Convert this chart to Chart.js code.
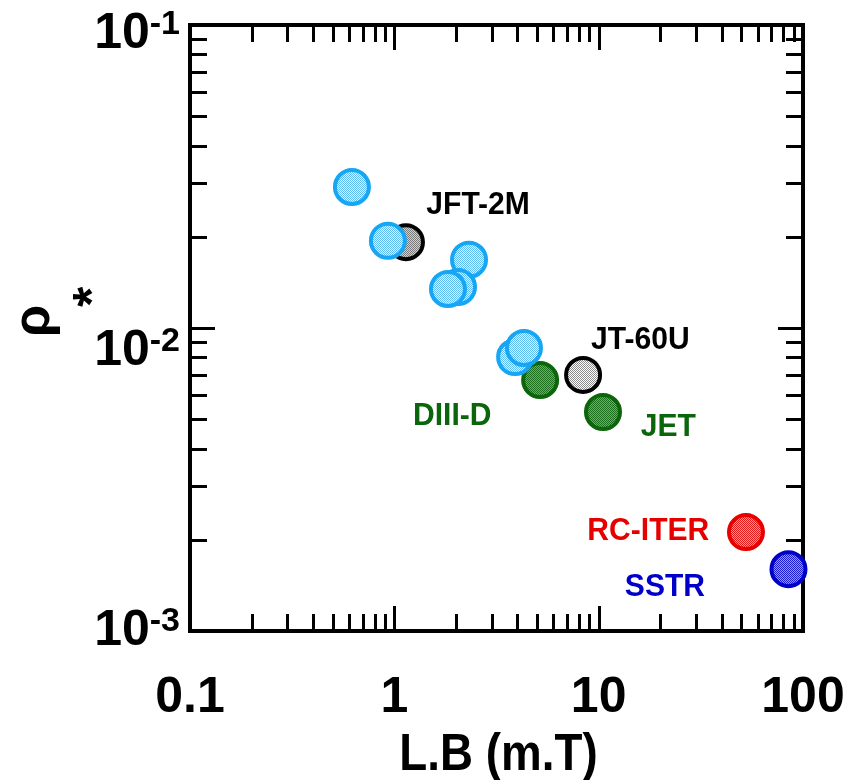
<!DOCTYPE html>
<html>
<head>
<meta charset="utf-8">
<script src="https://cdn.jsdelivr.net/npm/chart.js@4.4.1/dist/chart.umd.min.js"></script>
<style>
  html, body { margin: 0; padding: 0; background: #fff; }
  #wrap { width: 863px; height: 780px; }
</style>
</head>
<body>
<div id="wrap"><canvas id="rhoChart" width="863" height="780"></canvas></div>
<script>
// normalised gyroradius rho* against L.B for each device
const otherLB  = [0.62, 0.93, 2.32, 2.05, 1.83, 3.90, 4.31];
const otherRho = [0.0292, 0.0194, 0.0168, 0.01365, 0.01345, 0.00802, 0.00859];

const machines   = ['JFT-2M', 'JT-60U', 'DIII-D', 'JET', 'RC-ITER', 'SSTR'];
const machineLB  = [1.14, 8.39, 5.17, 10.5, 52.6, 84.9];
const machineRho = [0.0192, 0.0070, 0.00673, 0.00528, 0.00212, 0.00160];

// where the device names are written, in axis units
const nameLB  = [2.57, 16.0, 1.92, 21.9, 17.5, 21.1];
const nameRho = [0.0259, 0.00927, 0.0052, 0.00479, 0.00217, 0.00142];

const xTickValues = [0.1, 1, 10, 100];
const xTickLabels = ['0.1', '1', '10', '100'];
const yTickValues = [0.1, 0.01, 0.001];
const yTickExps   = ['-1', '-2', '-3'];

const FONT = "'Liberation Sans', Arial, Helvetica, sans-serif";

// halftone-like fill: checkerboard of two shades
function stipple(dot, paper) {
  const c = document.createElement('canvas');
  c.width = 2; c.height = 2;
  const g = c.getContext('2d');
  g.fillStyle = paper; g.fillRect(0, 0, 2, 2);
  g.fillStyle = dot; g.fillRect(0, 0, 1, 1); g.fillRect(1, 1, 1, 1);
  return g.createPattern(c, 'repeat');
}

const machineStyle = {
  'JFT-2M':  { border: '#000000', fill: stipple('#7a7a7a', '#d0d0d0'), text: '#000000' },
  'JT-60U':  { border: '#000000', fill: stipple('#8c8c8c', '#ffffff'), text: '#000000' },
  'DIII-D':  { border: '#0b650b', fill: stipple('#1c6f1c', '#6faa6f'), text: '#0b650b' },
  'JET':     { border: '#0b650b', fill: stipple('#1c6f1c', '#6faa6f'), text: '#0b650b' },
  'RC-ITER': { border: '#e60000', fill: stipple('#e41a1a', '#f79a9a'), text: '#e60000' },
  'SSTR':    { border: '#0000c8', fill: stipple('#1c1cd4', '#9a9af2'), text: '#0000c8' }
};

const datasets = [{
  label: 'others',
  data: otherLB.map((v, i) => ({ x: v, y: otherRho[i] })),
  borderColor: '#16a6f4',
  backgroundColor: stipple('#5cbcf2', '#eaf6fd'),
  pointRadius: 17,
  pointBorderWidth: 4,
  clip: false
}];
machines.forEach((m, i) => {
  datasets.push({
    label: m,
    data: [{ x: machineLB[i], y: machineRho[i] }],
    borderColor: machineStyle[m].border,
    backgroundColor: machineStyle[m].fill,
    pointRadius: 17,
    pointBorderWidth: 4,
    clip: false
  });
});

function logTicks(lo, hi) {
  const out = [];
  for (let e = Math.floor(Math.log10(lo)); e <= Math.ceil(Math.log10(hi)); e++) {
    for (let k = 1; k <= 9; k++) {
      const v = k * Math.pow(10, e);
      if (v >= lo * 0.9999 && v <= hi * 1.0001) out.push({ v, major: k === 1 });
    }
  }
  return out;
}

// text squeezed sideways a little, like the narrow bold face of the plot
function narrowText(ctx, str, x, y, sx) {
  ctx.save();
  ctx.translate(x, y);
  ctx.scale(sx, 1);
  ctx.fillText(str, 0, 0);
  ctx.restore();
}

// box with inward ticks on all four sides
const framePlugin = {
  id: 'frame',
  beforeDatasetsDraw(chart) {
    const { ctx, chartArea: a, scales: { x, y } } = chart;
    ctx.save();
    ctx.strokeStyle = '#000';
    ctx.lineWidth = 3;
    ctx.beginPath();
    logTicks(x.min, x.max).forEach(t => {
      const px = Math.round(x.getPixelForValue(t.v)) + 0.5;
      const len = t.major ? 25 : 17;
      ctx.moveTo(px, a.bottom); ctx.lineTo(px, a.bottom - len);
      ctx.moveTo(px, a.top); ctx.lineTo(px, a.top + len);
    });
    logTicks(y.min, y.max).forEach(t => {
      const py = Math.round(y.getPixelForValue(t.v)) + 0.5;
      const len = t.major ? 25 : 17;
      ctx.moveTo(a.left, py); ctx.lineTo(a.left + len, py);
      ctx.moveTo(a.right, py); ctx.lineTo(a.right - len, py);
    });
    ctx.stroke();
    ctx.lineWidth = 4;
    ctx.strokeRect(a.left, a.top, a.right - a.left, a.bottom - a.top);
    ctx.restore();
  },
  afterDraw(chart) {
    const { ctx, chartArea: a, scales: { x, y } } = chart;
    ctx.save();
    ctx.fillStyle = '#000';

    // x tick labels
    ctx.font = `bold 50px ${FONT}`;
    ctx.textAlign = 'center';
    ctx.textBaseline = 'alphabetic';
    xTickValues.forEach((v, i) => {
      ctx.fillText(xTickLabels[i], x.getPixelForValue(v), 712);
    });

    // y tick labels as powers of ten
    const drop = [23, 37, 14];
    yTickValues.forEach((v, i) => {
      const base = y.getPixelForValue(v) + drop[i];
      ctx.textAlign = 'right';
      ctx.font = `bold 34px ${FONT}`;
      const supW = ctx.measureText(yTickExps[i]).width;
      ctx.fillText(yTickExps[i], 180, base - 14);
      ctx.font = `bold 50px ${FONT}`;
      ctx.fillText('10', 180 - supW, base);
    });

    // axis titles
    ctx.textAlign = 'center';
    ctx.font = `bold 52px ${FONT}`;
    narrowText(ctx, 'L.B (m.T)', (a.left + a.right) / 2 + 2, 770, 0.88);

    ctx.save();
    ctx.translate(49, 321);
    ctx.rotate(-Math.PI / 2);
    ctx.fillText('ρ', 0, 0);
    ctx.restore();
    ctx.save();
    ctx.translate(109, 297);
    ctx.rotate(-Math.PI / 2);
    ctx.fillText('*', 0, 0);
    ctx.restore();

    // device names
    ctx.font = `bold 31px ${FONT}`;
    machines.forEach((m, i) => {
      ctx.fillStyle = machineStyle[m].text;
      narrowText(ctx, m, x.getPixelForValue(nameLB[i]), y.getPixelForValue(nameRho[i]) + 11, 0.97);
    });
    ctx.restore();
  }
};

new Chart(document.getElementById('rhoChart'), {
  type: 'scatter',
  data: { datasets },
  options: {
    responsive: false,
    animation: false,
    devicePixelRatio: 1,
    layout: { padding: { left: 0, right: 60, top: 25, bottom: 0 } },
    plugins: { legend: { display: false }, tooltip: { enabled: false } },
    scales: {
      x: {
        type: 'logarithmic', min: 0.1, max: 100,
        ticks: { display: false }, grid: { display: false }, border: { display: false },
        afterFit(s) { s.height = 149; }
      },
      y: {
        type: 'logarithmic', min: 0.001, max: 0.1,
        ticks: { display: false }, grid: { display: false }, border: { display: false },
        afterFit(s) { s.width = 190; }
      }
    }
  },
  plugins: [framePlugin]
});
</script>
</body>
</html>
